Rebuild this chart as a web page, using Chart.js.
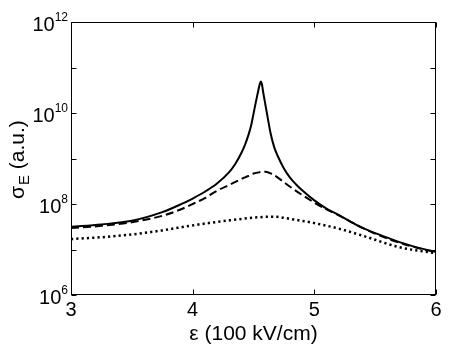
<!DOCTYPE html>
<html>
<head>
<meta charset="utf-8">
<script src="https://cdn.jsdelivr.net/npm/chart.js@4.4.1/dist/chart.umd.min.js"></script>
<style>
  html, body { margin: 0; padding: 0; background: #fff; }
</style>
</head>
<body>
<canvas id="chart" width="450" height="349"></canvas>
<script>
// field (100 kV/cm) and sigma_E (a.u.)
const epsSolid = [3.0, 3.25, 3.5, 3.75, 3.9, 4.0, 4.1, 4.2, 4.3, 4.35, 4.4, 4.43, 4.46, 4.48, 4.5, 4.52, 4.54, 4.55, 4.56,
  4.57, 4.58, 4.6, 4.62, 4.64, 4.67, 4.7, 4.75, 4.8, 4.85, 4.9, 5.0, 5.1, 5.2, 5.3, 5.4, 5.5, 5.6, 5.7, 5.8, 5.9, 6.0];
const sigmaSolid = [3.16e7, 3.55e7, 4.27e7, 6.61e7, 9.77e7, 1.32e8, 1.86e8, 2.82e8, 5.01e8, 7.59e8, 1.32e9, 2.0e9, 3.39e9, 5.25e9, 9.55e9, 1.78e10, 3.16e10, 4.17e10, 4.9e10,
  4.17e10, 2.82e10, 1.41e10, 7.08e9, 3.63e9, 1.78e9, 1.12e9, 6.03e8, 3.8e8, 2.69e8, 2.0e8, 1.2e8, 7.94e7, 5.75e7, 4.07e7, 2.95e7, 2.29e7, 1.82e7, 1.45e7, 1.2e7, 1.02e7, 8.91e6];

const epsDashed = [3.0, 3.25, 3.5, 3.75, 3.9, 4.0, 4.1, 4.2, 4.3, 4.4, 4.45, 4.5, 4.55, 4.6, 4.65, 4.7, 4.75, 4.8, 4.9, 5.0, 5.1, 5.2, 5.3, 5.4, 5.6, 5.8, 6.0];
const sigmaDashed = [2.95e7, 3.31e7, 3.98e7, 5.5e7, 7.59e7, 1.0e8, 1.35e8, 1.95e8, 2.63e8, 3.55e8, 4.07e8, 4.68e8, 5.01e8, 5.13e8, 4.57e8, 3.8e8, 3.02e8, 2.4e8, 1.58e8, 1.07e8, 7.59e7, 5.62e7, 4.07e7, 2.95e7, 1.74e7, 1.17e7, 8.7e6];

const epsDotted = [3.0, 3.25, 3.5, 3.75, 4.0, 4.3, 4.55, 4.66, 4.83, 5.0, 5.2, 5.4, 5.7, 6.0];
const sigmaDotted = [1.7e7, 1.86e7, 2.14e7, 2.63e7, 3.39e7, 4.37e7, 5.13e7, 5.25e7, 4.57e7, 3.8e7, 2.88e7, 2.0e7, 1.12e7, 8.3e6];

const xTicks = [3, 4, 5, 6];
const yTickValues = [1e6, 1e7, 1e8, 1e9, 1e10, 1e11, 1e12];
const yLabelValues = [1e6, 1e8, 1e10, 1e12];
const yLabelExps = ['6', '8', '10', '12'];

const FONT = '"Liberation Sans", Arial, Helvetica, sans-serif';

const toPoints = (xs, ys) => xs.map((x, i) => ({ x, y: ys[i] }));

// MATLAB-style box with inward ticks, superscript tick labels and the y title
const frame = {
  id: 'frame',
  afterDraw(chart) {
    const { ctx, chartArea: a, scales: { x, y } } = chart;
    const L = Math.round(a.left) + 0.5, R = Math.round(a.right) - 0.5;
    const T = Math.round(a.top) + 0.5, B = Math.round(a.bottom) - 0.5;
    ctx.save();
    ctx.strokeStyle = '#000';
    ctx.lineWidth = 1;
    ctx.strokeRect(L, T, R - L, B - T);
    ctx.beginPath();
    xTicks.forEach(v => {
      const px = Math.round(x.getPixelForValue(v)) + 0.5;
      ctx.moveTo(px, B); ctx.lineTo(px, B - 5);
      ctx.moveTo(px, T); ctx.lineTo(px, T + 5);
    });
    yTickValues.forEach(v => {
      const py = Math.round(y.getPixelForValue(v)) + 0.5;
      ctx.moveTo(L, py); ctx.lineTo(L + 5, py);
      ctx.moveTo(R, py); ctx.lineTo(R - 5, py);
    });
    ctx.stroke();

    ctx.fillStyle = '#000';
    ctx.textBaseline = 'alphabetic';
    ctx.textAlign = 'left';
    yLabelValues.forEach((v, i) => {
      const py = y.getPixelForValue(v);
      ctx.font = '12px ' + FONT;
      const ew = ctx.measureText(yLabelExps[i]).width;
      const ex = a.left - 3 - ew;
      ctx.fillText(yLabelExps[i], ex, py - 1);
      ctx.font = '20px ' + FONT;
      const bw = ctx.measureText('10').width;
      ctx.fillText('10', ex - bw, py + 9);
    });

    ctx.translate(24, 199);
    ctx.rotate(-Math.PI / 2);
    ctx.font = '21px ' + FONT;
    ctx.fillText('σ', 0, 0);
    let w = ctx.measureText('σ').width;
    ctx.font = '15px ' + FONT;
    ctx.fillText('E', w + 1, 5);
    w += 1 + ctx.measureText('E').width;
    ctx.font = '21px ' + FONT;
    ctx.fillText(' (a.u.)', w, 0);
    ctx.restore();
  },
};

new Chart(document.getElementById('chart').getContext('2d'), {
  type: 'line',
  data: {
    datasets: [
      {
        data: toPoints(epsSolid, sigmaSolid),
        borderColor: '#000',
        borderWidth: 2,
      },
      {
        data: toPoints(epsDashed, sigmaDashed),
        borderColor: '#000',
        borderWidth: 2,
        borderDash: [8, 4],
      },
      {
        data: toPoints(epsDotted, sigmaDotted),
        borderColor: '#000',
        borderWidth: 2.5,
        borderDash: [2.2, 3.1],
      },
    ],
  },
  options: {
    responsive: false,
    animation: false,
    devicePixelRatio: 1,
    layout: { padding: { top: 22, right: 14, left: 0, bottom: 0 } },
    elements: {
      point: { radius: 0 },
      line: { cubicInterpolationMode: 'monotone', fill: false },
    },
    plugins: { legend: { display: false }, tooltip: { enabled: false } },
    scales: {
      x: {
        type: 'linear',
        min: 3,
        max: 6,
        afterBuildTicks: s => { s.ticks = xTicks.map(v => ({ value: v })); },
        afterFit: s => { s.height = 54; },
        ticks: { color: '#000', font: { family: FONT, size: 20 }, padding: 3 },
        grid: { display: false, drawTicks: false },
        border: { display: false },
        title: {
          display: true,
          text: 'ε (100 kV/cm)',
          color: '#000',
          font: { family: FONT, size: 21 },
          padding: { top: 0, bottom: 2 },
        },
      },
      y: {
        type: 'logarithmic',
        min: 1e6,
        max: 1e12,
        afterFit: s => { s.width = 71; },
        ticks: { display: false },
        grid: { display: false, drawTicks: false },
        border: { display: false },
      },
    },
  },
  plugins: [frame],
});
</script>
</body>
</html>
